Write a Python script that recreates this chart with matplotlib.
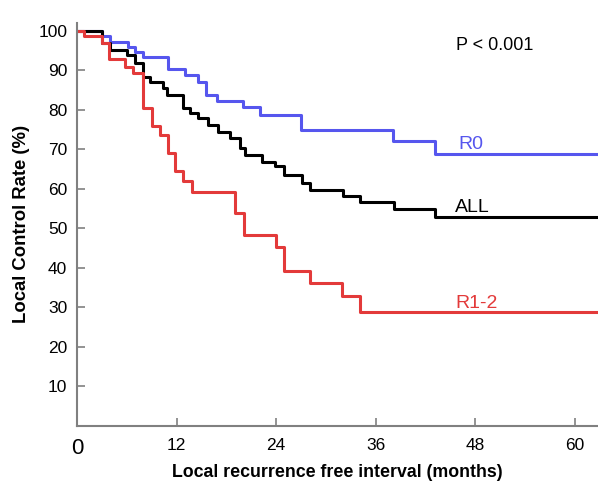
import matplotlib.pyplot as plt

plt.rcParams['font.family'] = ['Liberation Sans', 'DejaVu Sans']

# Kaplan-Meier steps: event times (months) and local control rate (%)
r0_months = [0, 3.0, 4.0, 6.1, 7.0, 8.0, 11.0, 13.0, 14.6, 15.6, 16.9, 20.0, 22.1, 27.0, 38.1, 43.1]
r0_rate = [100, 98.8, 97.2, 96.0, 94.7, 93.4, 90.3, 88.8, 87.1, 83.8, 82.2, 80.6, 78.7, 74.9, 72.0, 68.8]

all_months = [0, 3.0, 4.0, 6.0, 7.0, 8.0, 8.8, 10.4, 10.8, 12.8, 13.6, 14.6, 15.8, 17.0, 18.5,
              19.7, 20.3, 22.3, 23.9, 25.0, 27.1, 28.1, 32.1, 34.1, 38.2, 43.2]
all_rate = [100, 96.8, 95.2, 93.8, 91.8, 88.4, 87.1, 85.4, 83.8, 80.4, 79.1, 77.9, 76.2, 74.5, 72.8,
            70.3, 68.6, 66.9, 65.7, 63.6, 61.5, 59.6, 58.1, 56.8, 54.9, 53.0]

r12_months = [0, 0.8, 3.0, 3.9, 5.8, 6.8, 8.0, 9.0, 10.0, 11.0, 11.8, 12.8, 13.8, 19.1, 20.1,
              24.0, 25.0, 28.1, 32.0, 34.1]
r12_rate = [100, 98.8, 96.8, 92.8, 90.9, 89.2, 80.4, 75.8, 73.7, 69.0, 64.4, 61.9, 59.3, 53.9, 48.4,
            45.4, 39.2, 36.2, 32.8, 28.9]

x_end = 62.8
x_ticks = [0, 12, 24, 36, 48, 60]
y_ticks = [10, 20, 30, 40, 50, 60, 70, 80, 90, 100]

blue = '#5656ee'
red = '#e33a3a'

fig = plt.figure(figsize=(5.98, 4.87), dpi=100)
ax = fig.add_axes([0.1288, 0.1253, 1 - 0.1288, 0.953 - 0.1253])

for months, rate, color in [(r0_months, r0_rate, blue),
                            (all_months, all_rate, 'black'),
                            (r12_months, r12_rate, red)]:
    ax.step(months + [x_end], rate + [rate[-1]], where='post', color=color, lw=2.2)

ax.set_xlim(0, x_end)
ax.set_ylim(0, 102)
ax.set_xticks(x_ticks)
ax.set_yticks(y_ticks)
ax.tick_params(direction='in', length=6, width=1.2, color='#808080', labelsize=12.5)
ax.tick_params(axis='x', pad=9)
ax.tick_params(axis='y', pad=7)
ax.get_xticklabels()[0].set_fontsize(16)

for side in ['top', 'right']:
    ax.spines[side].set_visible(False)
for side in ['left', 'bottom']:
    ax.spines[side].set_color('#808080')
    ax.spines[side].set_linewidth(1.5)

ax.set_xlabel('Local recurrence free interval (months)', fontsize=12.8, fontweight='bold', labelpad=3)
ax.set_ylabel('Local Control Rate (%)', fontsize=13.3, fontweight='bold', labelpad=6)

ax.text(45.7, 96.4, 'P < 0.001', fontsize=13, va='center')
ax.text(46.0, 71.3, 'R0', fontsize=14, color=blue, va='center')
ax.text(45.6, 55.4, 'ALL', fontsize=14, color='black', va='center')
ax.text(45.6, 30.9, 'R1-2', fontsize=14, color=red, va='center')

fig.savefig('out.png', dpi=100)
